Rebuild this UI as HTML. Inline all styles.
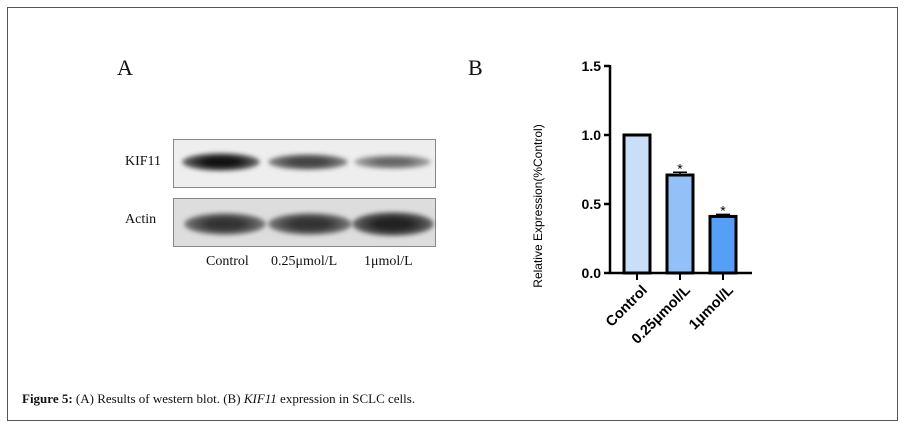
<!DOCTYPE html>
<html><head><meta charset="utf-8"><style>
body{margin:0;background:#fff;}
.frame{position:absolute;left:7px;top:7px;width:889px;height:412px;border:1px solid #555;}
.t{position:absolute;font-family:"Liberation Serif",serif;color:#111;}
.blot{position:absolute;border:1px solid #888;background:#eee;}
.band{position:absolute;border-radius:50%;filter:blur(2px);}
</style></head><body>
<div class="frame"></div>
<div class="t" style="left:117px;top:55px;font-size:22px">A</div>
<div class="t" style="left:468px;top:55px;font-size:22px">B</div>
<div class="t" style="left:125px;top:154px;font-size:14px">KIF11</div>
<div class="t" style="left:125px;top:212px;font-size:14px">Actin</div>
<div class="blot" style="left:173px;top:139px;width:261px;height:47px">
 <div class="band" style="left:8px;top:13px;width:78px;height:18px;background:radial-gradient(ellipse,#111 30%,#555 60%,rgba(200,200,200,0) 100%)"></div>
 <div class="band" style="left:94px;top:14px;width:80px;height:16px;background:radial-gradient(ellipse,#444 30%,#777 60%,rgba(200,200,200,0) 100%)"></div>
 <div class="band" style="left:180px;top:15px;width:77px;height:14px;background:radial-gradient(ellipse,#666 30%,#999 60%,rgba(200,200,200,0) 100%)"></div>
</div>
<div class="blot" style="left:173px;top:198px;width:261px;height:47px;background:#ddd">
 <div class="band" style="left:10px;top:14px;width:82px;height:22px;background:radial-gradient(ellipse,#333 30%,#666 60%,rgba(200,200,200,0) 100%)"></div>
 <div class="band" style="left:94px;top:14px;width:84px;height:22px;background:radial-gradient(ellipse,#333 30%,#666 60%,rgba(200,200,200,0) 100%)"></div>
 <div class="band" style="left:178px;top:13px;width:82px;height:24px;background:radial-gradient(ellipse,#222 30%,#555 60%,rgba(200,200,200,0) 100%)"></div>
</div>
<div class="t" style="left:206px;top:254px;font-size:14px">Control</div>
<div class="t" style="left:271px;top:254px;font-size:14px">0.25μmol/L</div>
<div class="t" style="left:364px;top:254px;font-size:14px">1μmol/L</div>
<svg id="chart" width="909" height="429" style="position:absolute;left:0;top:0"></svg>
<div class="t" style="left:22px;top:391px;font-size:13px"><b>Figure 5:</b> (A) Results of western blot. (B) <i>KIF11</i> expression in SCLC cells.</div>
<script>
const categories=["Control","0.25μmol/L","1μmol/L"];
const values=[1.0,0.71,0.41];
const errors=[0,0.02,0.015];
const sig=["","*","*"];
const ticks=[0,0.5,1.0,1.5];
const tickLabels=["0.0","0.5","1.0","1.5"];
const colors=["#c9def7","#92c0f7","#559ff7"];
const svg=document.getElementById('chart');
const NS="http://www.w3.org/2000/svg";
const y0=273,ppu=138,ax=610;
const y=v=>y0-v*ppu;
const bx=i=>637+i*43;
function mk(t,a){const e=document.createElementNS(NS,t);for(const k in a)e.setAttribute(k,a[k]);svg.appendChild(e);return e;}
let e=mk('line',{x1:ax,y1:y(1.5)-1,x2:ax,y2:y0+1,stroke:'#000','stroke-width':2.5});


e=mk('line',{x1:ax-1,y1:y0,x2:752,y2:y0,stroke:'#000','stroke-width':2.5});


ticks.forEach((t,i)=>{
 let l=mk('line',{x1:ax-6,y1:y(t),x2:ax,y2:y(t),stroke:'#000','stroke-width':2.5});
 
 
 let tx=mk('text',{x:ax-9,y:y(t)+5,'text-anchor':'end','font-family':'Liberation Sans, sans-serif','font-weight':'bold','font-size':14});
 tx.textContent=tickLabels[i];
 
 
});
categories.forEach((c,i)=>{
 const cx=bx(i);
 let r=mk('rect',{x:cx-13,y:y(values[i]),width:26,height:y0-y(values[i]),fill:colors[i],stroke:'#000','stroke-width':3});
 
 
 if(errors[i]>0){
  let el=mk('path',{d:`M${cx} ${y(values[i])} V${y(values[i]+errors[i])} M${cx-7} ${y(values[i]+errors[i])} H${cx+7}`,stroke:'#000','stroke-width':1.5,fill:'none'});
  
  
 }
 if(sig[i]){
  let s=mk('text',{x:cx,y:y(values[i]+errors[i])+1,'text-anchor':'middle','font-family':'Liberation Sans, sans-serif','font-size':14});
  s.textContent=sig[i];
  
  
 }
 let tk=mk('line',{x1:cx,y1:y0,x2:cx,y2:y0+7,stroke:'#000','stroke-width':2});
 
 
 let lb=mk('text',{x:cx+11,y:y0+18,'text-anchor':'end','font-family':'Liberation Sans, sans-serif','font-weight':'bold','font-size':14.5,transform:`rotate(-45 ${cx+11} ${y0+18})`});
 lb.textContent=c;
 
 
});
let yt=mk('text',{x:0,y:0,'text-anchor':'middle','font-family':'Liberation Sans, sans-serif','font-size':12,transform:'translate(542 206) rotate(-90)'});
yt.textContent="Relative Expression(%Control)";


</script>
</body></html>
